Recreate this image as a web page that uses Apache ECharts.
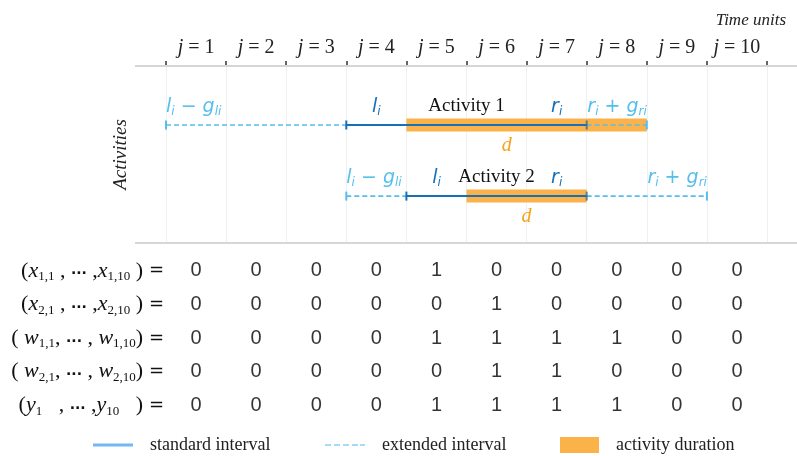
<!DOCTYPE html>
<html><head><meta charset="utf-8">
<script src="https://cdn.jsdelivr.net/npm/echarts@6/dist/echarts.min.js"></script>
<style>html,body{margin:0;padding:0;background:#fff}#c{width:797px;height:456px}</style>
</head><body><div id="c"></div>
<script>
// ---- data ----
const periods = ['1','2','3','4','5','6','7','8','9','10'];
const activities = ['Activity 1','Activity 2'];
const activityRow = [1, 2];
const stdStart = [3, 4];   // l_i
const stdEnd   = [7, 7];   // r_i
const extStart = [0, 3];   // l_i - g_li
const extEnd   = [8, 9];   // r_i + g_ri
const durStart = [4, 5];
const durEnd   = [8, 7];
const dLabelX  = [5.67, 6];
const rowLabels = [
  '{p|(}{v|x}{s|1,1}{p| , }{d|...}{p| ,}{v|x}{s|1,10}{p| )}{e| =}',
  '{p|(}{v|x}{s|2,1}{p| , }{d|...}{p| ,}{v|x}{s|2,10}{p| )}{e| =}',
  '{p|( }{v|w}{s|1,1}{p|, }{d|...}{p| , }{v|w}{s|1,10}{p|)}{e| =}',
  '{p|( }{v|w}{s|2,1}{p|, }{d|...}{p| , }{v|w}{s|2,10}{p|)}{e| =}',
  '{p|(}{v|y}{s|1}{p|   , }{d|...}{p| ,}{v|y}{s|10}{p|   )}{e| =}'
];
const x1 = [0,0,0,0,1,0,0,0,0,0];
const x2 = [0,0,0,0,0,1,0,0,0,0];
const w1 = [0,0,0,0,1,1,1,1,0,0];
const w2 = [0,0,0,0,0,1,1,0,0,0];
const yv = [0,0,0,0,1,1,1,1,0,0];
const tableRows = [x1, x2, w1, w2, yv];

// ---- styles ----
const C_STD = '#1670b8', C_EXT = '#55bfec', C_DUR = '#fbb24a', C_D = '#f7a21b';
const SERIF = 'Liberation Serif', SANS = 'DejaVu Sans';

const durData = activities.map((a, i) => [durStart[i], durEnd[i], activityRow[i]]);
const stdData = activities.map((a, i) => [stdStart[i], stdEnd[i], activityRow[i]]);
const extData = [];
activities.forEach((a, i) => {
  extData.push([extStart[i], stdStart[i], activityRow[i], 0]);
  extData.push([stdEnd[i], extEnd[i], activityRow[i], 1]);
});
const mathRich = {
  m: {fontFamily: SANS, fontStyle: 'italic', fontSize: 19},
  s: {fontFamily: SANS, fontStyle: 'italic', fontSize: 12, padding: [10, 0, 0, 0]},
  o: {fontFamily: SANS, fontSize: 19}
};
const annot = [];
activities.forEach((a, i) => {
  const r = activityRow[i];
  annot.push([extStart[i], r, '{m|l}{s|i}{o| − }{m|g}{s|li}', C_EXT, 'left', 'up']);
  annot.push([stdStart[i] + 0.5, r, '{m|l}{s|i}', C_STD, 'center', 'up']);
  annot.push([(stdStart[i] + stdEnd[i]) / 2, r, a, '#111', 'center', 'name']);
  annot.push([stdEnd[i] - 0.5, r, '{m|r}{s|i}', C_STD, 'center', 'up']);
  annot.push([extEnd[i], r, '{m|r}{s|i}{o| + }{m|g}{s|ri}', C_EXT, 'right', 'up']);
  annot.push([dLabelX[i], r, 'd', C_D, 'center', 'down']);
});

const tableData = [];
tableRows.forEach((row, r) => row.forEach((v, j) => tableData.push([j + 0.5, r, v])));

const chart = echarts.init(document.getElementById('c'));
chart.setOption({
  animation: false,
  title: {text: 'Time units', right: 6, top: 7,
    textStyle: {fontFamily: SERIF, fontStyle: 'italic', fontWeight: 'normal', fontSize: 17, color: '#222'}},
  grid: [
    {left: 166, right: 30, top: 66, height: 177},
    {left: 166, right: 30, top: 254, height: 168}
  ],
  xAxis: [
    {type: 'category', gridIndex: 0, position: 'top', data: periods, boundaryGap: true,
     axisLine: {show: false},
     axisTick: {show: true, interval: 0, length: 5, lineStyle: {color: '#333', width: 1.5}},
     splitLine: {show: true, interval: 0, lineStyle: {color: '#f0f0f0', width: 1}},
     axisLabel: {interval: 0, margin: 8, formatter: v => '{j|j}{t| = ' + v + '}',
       rich: {j: {fontFamily: SERIF, fontStyle: 'italic', fontSize: 20, color: '#222'},
              t: {fontFamily: SERIF, fontSize: 20, color: '#222'}}}},
    {type: 'value', gridIndex: 0, min: 0, max: 10, show: false},
    {type: 'value', gridIndex: 1, min: 0, max: 10, show: false}
  ],
  yAxis: [
    {type: 'value', gridIndex: 0, min: 0.17, max: 2.66, inverse: true,
     axisLine: {show: false}, axisTick: {show: false}, axisLabel: {show: false}, splitLine: {show: false},
     name: 'Activities', nameLocation: 'middle', nameGap: 36, nameRotate: 90,
     nameTextStyle: {fontFamily: SERIF, fontStyle: 'italic', fontSize: 19, color: '#222'}},
    {type: 'category', gridIndex: 1, data: rowLabels, inverse: true,
     axisLine: {show: false}, axisTick: {show: false}, splitLine: {show: false},
     axisLabel: {margin: 2, interval: 0, color: '#111', align: 'right',
       rich: {
         p: {fontFamily: SERIF, fontSize: 22, color: '#111'},
         v: {fontFamily: SERIF, fontStyle: 'italic', fontSize: 22, color: '#111'},
         s: {fontFamily: SERIF, fontSize: 13, color: '#111', padding: [12, 0, 0, 0]},
         d: {fontFamily: SANS, fontWeight: 'bold', fontSize: 14, color: '#111'},
         e: {fontFamily: SANS, fontSize: 18, color: '#111'}
       }}}
  ],
  legend: [
    {data: [{name: 'standard interval', icon: 'rect', itemStyle: {color: '#72b8f5'}}],
     left: 88, top: 431, itemWidth: 40, itemHeight: 3, selectedMode: false,
     textStyle: {fontFamily: SERIF, fontSize: 18, color: '#222', padding: [0, 0, 0, 12]}},
    {data: [{name: 'extended interval', icon: 'path://M0,0h6v2h-6zM9,0h6v2h-6zM18,0h6v2h-6zM27,0h6v2h-6zM35,0h5v2h-5z', itemStyle: {color: '#a6daf6'}}],
     left: 320, top: 431, itemWidth: 40, itemHeight: 2, selectedMode: false,
     textStyle: {fontFamily: SERIF, fontSize: 18, color: '#222', padding: [0, 0, 0, 12]}},
    {data: [{name: 'activity duration', icon: 'rect', itemStyle: {color: C_DUR}}],
     left: 555, top: 431, itemWidth: 39, itemHeight: 16, selectedMode: false,
     textStyle: {fontFamily: SERIF, fontSize: 18, color: '#222', padding: [0, 0, 0, 12]}}
  ],
  graphic: [
    {type: 'line', shape: {x1: 135, y1: 66, x2: 797, y2: 66}, style: {stroke: '#d6d6d6', lineWidth: 2}, z: 1},
    {type: 'line', shape: {x1: 135, y1: 243, x2: 797, y2: 243}, style: {stroke: '#d6d6d6', lineWidth: 2}, z: 1}
  ],
  series: [
    {type: 'custom', name: 'activity duration', xAxisIndex: 1, yAxisIndex: 0, data: durData, z: 2,
     itemStyle: {color: C_DUR},
     renderItem: (p, api) => {
       const a = api.coord([api.value(0), api.value(2)]);
       const b = api.coord([api.value(1), api.value(2)]);
       return {type: 'rect', shape: {x: a[0], y: a[1] - 6.5, width: b[0] - a[0], height: 13},
               style: {fill: C_DUR}};
     }},
    {type: 'custom', name: 'extended interval', xAxisIndex: 1, yAxisIndex: 0, data: extData, z: 3,
     itemStyle: {color: C_EXT},
     renderItem: (p, api) => {
       const a = api.coord([api.value(0), api.value(2)]);
       const b = api.coord([api.value(1), api.value(2)]);
       const cx = api.value(3) === 0 ? a[0] : b[0];
       return {type: 'group', children: [
         {type: 'line', shape: {x1: a[0], y1: a[1], x2: b[0], y2: b[1]},
          style: {stroke: C_EXT, lineWidth: 1.6, lineDash: [5, 3]}},
         {type: 'line', shape: {x1: cx, y1: a[1] - 4.5, x2: cx, y2: a[1] + 4.5},
          style: {stroke: C_EXT, lineWidth: 2}}
       ]};
     }},
    {type: 'custom', name: 'standard interval', xAxisIndex: 1, yAxisIndex: 0, data: stdData, z: 4,
     itemStyle: {color: C_STD},
     renderItem: (p, api) => {
       const a = api.coord([api.value(0), api.value(2)]);
       const b = api.coord([api.value(1), api.value(2)]);
       return {type: 'group', children: [
         {type: 'line', shape: {x1: a[0], y1: a[1], x2: b[0], y2: b[1]},
          style: {stroke: C_STD, lineWidth: 2}},
         {type: 'line', shape: {x1: a[0], y1: a[1] - 4.5, x2: a[0], y2: a[1] + 4.5},
          style: {stroke: C_STD, lineWidth: 2}},
         {type: 'line', shape: {x1: b[0], y1: b[1] - 4.5, x2: b[0], y2: b[1] + 4.5},
          style: {stroke: '#3b6c8f', lineWidth: 2, opacity: 0.8}}
       ]};
     }},
    {type: 'custom', name: 'annotations', xAxisIndex: 1, yAxisIndex: 0, data: annot, z: 5,
     renderItem: (p, api) => {
       const it = annot[p.dataIndex];
       const c = api.coord([it[0], it[1]]);
       let style;
       if (it[5] === 'name') {
         style = {text: it[2], fill: it[3], fontFamily: SERIF, fontSize: 19, align: 'center', verticalAlign: 'middle'};
       } else if (it[5] === 'down') {
         style = {text: it[2], fill: it[3], fontFamily: SERIF, fontStyle: 'italic', fontSize: 20, align: 'center', verticalAlign: 'middle'};
       } else {
         style = {text: it[2], fill: it[3], align: it[4], verticalAlign: 'middle', rich: mathRich};
       }
       const dy = it[5] === 'down' ? 21 : (it[5] === 'name' ? -19 : -18);
       return {type: 'text', x: c[0], y: c[1] + dy, style: style};
     }},
    {type: 'scatter', xAxisIndex: 2, yAxisIndex: 1, data: tableData, symbolSize: 2,
     itemStyle: {color: 'rgba(0,0,0,0)'}, silent: true, labelLayout: {hideOverlap: false},
     label: {show: true, position: 'inside', formatter: p => String(p.value[2]),
       fontFamily: 'Liberation Sans', fontSize: 20, color: '#000'}}
  ]
});
</script></body></html>
